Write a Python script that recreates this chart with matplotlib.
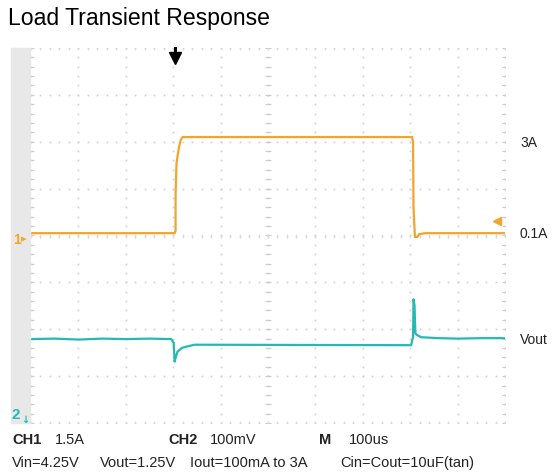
import numpy as np
import matplotlib
matplotlib.use("Agg")
import matplotlib.pyplot as plt
from matplotlib.patches import Rectangle

plt.rcParams['font.family'] = ['Liberation Sans', 'DejaVu Sans']

# scope traces, x in time divisions (0..10), y in vertical divisions (-4..4)
ch1_t = [0, 3.03, 3.05, 3.05, 3.07, 3.12, 3.16, 3.2, 8.04, 8.06, 8.07, 8.1, 8.15, 8.19, 8.32, 10]
ch1_v = [0.05, 0.05, 0.1, 0.88, 1.55, 1.87, 2.04, 2.1, 2.1, 2.0, 0.59, -0.03, -0.03, 0.03, 0.05, 0.05]

ch2_t = [0, 0.5, 1.0, 1.5, 2.0, 2.5, 2.96, 3.01, 3.03, 3.05, 3.09, 3.18, 3.28, 3.45,
         8.02, 8.06, 8.07, 8.09, 8.11, 8.14, 8.23, 8.6, 9.0, 9.5, 10]
ch2_v = [-2.21, -2.2, -2.22, -2.2, -2.21, -2.2, -2.21, -2.29, -2.69, -2.61, -2.48, -2.4, -2.37, -2.33,
         -2.34, -2.16, -1.36, -1.48, -2.09, -2.12, -2.17, -2.19, -2.2, -2.19, -2.19]

level_labels = ["3A", "0.1A", "Vout"]
info_line1 = [("CH1", "1.5A"), ("CH2", "100mV"), ("M", "100us")]
info_line2 = ["Vin=4.25V", "Vout=1.25V", "Iout=100mA to 3A", "Cin=Cout=10uF(tan)"]

orange = "#F2A52C"
cyan = "#25B9B2"
W, H = 555, 476

fig = plt.figure(figsize=(W / 100, H / 100), dpi=100)
ax = fig.add_axes([31 / W, (H - 423) / H, 474 / W, 375 / H])
ax.set_xlim(0, 10)
ax.set_ylim(-4, 4)
ax.axis("off")

# gray strip at left of the screen
fig.patches.append(Rectangle((11 / W, (H - 423) / H), 19 / W, 375 / H,
                             transform=fig.transFigure, color="#E8E8E8", zorder=0))

# dotted graticule
sub = np.arange(0, 10.01, 0.2)
subv = np.arange(-4, 4.01, 0.2)
for i in range(11):
    ax.plot(np.full_like(subv, i), subv, ls="none", marker="s", ms=1.2, color="#CFCFCF", mew=0)
for j in range(-4, 5):
    ax.plot(sub, np.full_like(sub, j), ls="none", marker="s", ms=1.2, color="#CFCFCF", mew=0)
# ticks on borders and centre lines
for i in [0, 5, 10]:
    ax.plot(np.full_like(subv, i), subv, ls="none", marker="_", ms=4, color="#CCCCCC", mew=0.8)
for j in [-4, 0, 4]:
    ax.plot(sub, np.full_like(sub, j), ls="none", marker="|", ms=3, color="#DADADA", mew=0.8)

# traces
ax.plot(ch1_t, ch1_v, color=orange, lw=1.6, solid_joinstyle="miter", zorder=5)
ax.plot(ch2_t, ch2_v, color=cyan, lw=1.6, zorder=5)

# markers
ax.plot([3.03, 3.03], [4.0, 3.87], color="black", lw=2.2, clip_on=False, zorder=6)
ax.plot([3.03], [3.78], marker="v", ms=9, color="black", clip_on=False, zorder=6)
ax.plot([9.83], [0.32], marker="<", ms=6, color=orange, clip_on=False, zorder=6)

fig.text(13 / W, 1 - 240 / H, "1", color=orange, fontsize=10, fontweight="bold", va="center")
fig.text(21 / W, 1 - 239 / H, "▸", color=orange, fontsize=8, va="center", family="DejaVu Sans")
fig.text(12 / W, 1 - 415 / H, "2", color=cyan, fontsize=11, fontweight="bold", va="center")
fig.text(21 / W, 1 - 420 / H, "↓", color=cyan, fontsize=7, fontweight="bold", va="center",
         family="DejaVu Sans")

# right side level labels
for lab, py in zip(level_labels, [143, 234, 340]):
    fig.text(520 / W, 1 - py / H, lab, fontsize=10, color="#222222", va="center")

# title
fig.text(8 / W, 1 - 19 / H, "Load Transient Response", fontsize=16.6, va="center", color="black")

# bottom info
for (bold, val), px, pv in zip(info_line1, [12, 168, 319], [55, 210, 349]):
    fig.text(px / W, 1 - 440 / H, bold, fontsize=10.5, fontweight="bold", va="center", color="#222222")
    fig.text(pv / W, 1 - 440 / H, val, fontsize=10.5, va="center", color="#222222")
for txt, px in zip(info_line2, [12, 100, 190, 340]):
    fig.text(px / W, 1 - 463 / H, txt, fontsize=10.5, va="center", color="#222222")

fig.savefig("out.png", dpi=100, facecolor="white")
